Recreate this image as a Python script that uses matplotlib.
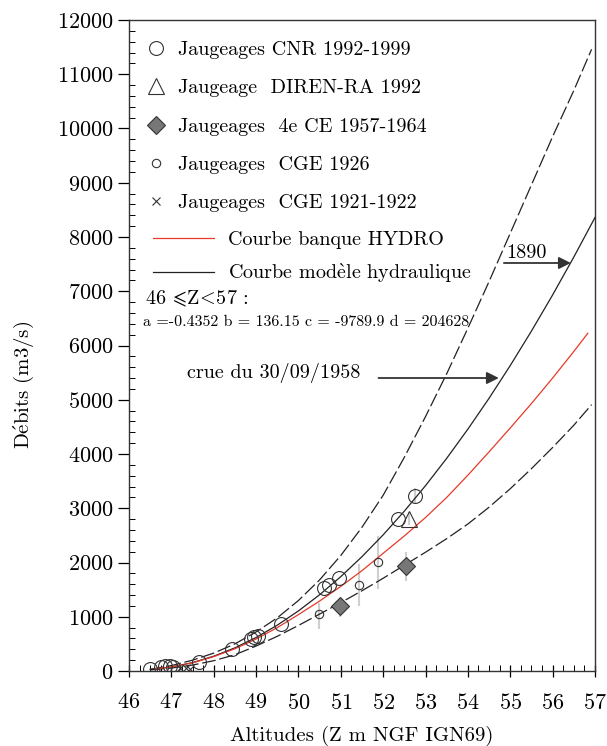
import matplotlib
matplotlib.use('Agg')
from matplotlib import pyplot as plt
from matplotlib.lines import Line2D

plt.rcParams['font.family'] = ['cmr10', 'DejaVu Serif']
plt.rcParams['mathtext.fontset'] = 'cm'
plt.rcParams['axes.unicode_minus'] = False
plt.rcParams['axes.formatter.use_mathtext'] = True

# courbe modele hydraulique (Q = aZ^3 + bZ^2 + cZ + d, valeurs lues)
z_model = [46.5, 47.0, 47.5, 48.0, 48.5, 49.0, 49.5, 50.0, 50.5, 51.0, 51.5,
           52.0, 52.5, 53.0, 53.5, 54.0, 54.5, 55.0, 55.5, 56.0, 56.5, 57.0]
q_model = [31, 74, 155, 273, 427, 618, 845, 1108, 1406, 1740, 2108,
           2510, 2947, 3417, 3921, 4459, 5028, 5631, 6266, 6932, 7630, 8359]

# courbe banque HYDRO
z_hydro = [46.6, 47.0, 47.5, 48.0, 48.5, 49.0, 49.5, 50.0, 50.5, 51.0, 51.5,
           52.0, 52.5, 53.0, 53.5, 54.0, 54.5, 55.0, 55.5, 56.0, 56.5, 56.83]
q_hydro = [40, 75, 150, 265, 410, 590, 800, 1040, 1290, 1560, 1850,
           2170, 2490, 2830, 3200, 3610, 4040, 4480, 4930, 5400, 5890, 6225]

# enveloppes (tirets)
z_env = [46.5, 47.0, 47.5, 48.0, 48.5, 49.0, 49.5, 50.0, 50.5, 51.0, 51.5,
         52.0, 52.5, 53.0, 53.5, 54.0, 54.5, 55.0, 55.5, 56.0, 56.5, 56.92]
q_upper = [30, 100, 200, 330, 500, 720, 980, 1300, 1680, 2130, 2650,
           3240, 3940, 4690, 5480, 6320, 7180, 8070, 8960, 9850, 10700, 11460]
q_lower = [20, 55, 110, 190, 300, 460, 640, 840, 1050, 1260, 1480,
           1710, 1950, 2190, 2440, 2710, 3020, 3360, 3730, 4120, 4530, 4910]

# jaugeages
z_cnr = [46.50, 46.75, 46.85, 46.97, 47.05, 47.66, 48.43, 48.88, 48.96, 49.05,
         49.60, 50.60, 50.72, 50.95, 52.35, 52.75]
q_cnr = [35, 75, 95, 95, 80, 165, 410, 595, 630, 650,
         870, 1530, 1585, 1710, 2805, 3220]
z_diren = [52.61]
q_diren = [2796]
z_ce = [50.99, 52.55]
q_ce = [1198, 1935]
z_cge26 = [50.48, 51.44, 51.88]
q_cge26 = [1045, 1585, 2004]
z_cge21 = [47.20, 47.35, 47.45]
q_cge21 = [50, 60, 30]

# incertitudes (barres grises)
z_bar = [50.48, 51.44, 51.88, 50.99, 52.55, 52.75, 52.61]
q_bar_low = [769, 1198, 1511, 1001, 1665, 3097, 2691]
q_bar_high = [1248, 1972, 2488, 1277, 2199, 3373, 2936]

fig = plt.figure(figsize=(6.07, 7.46), dpi=100)
ax = fig.add_axes([0.2125, 0.1005, 0.7677, 0.8727])

ax.vlines(z_bar, q_bar_low, q_bar_high, colors='#cfcfcf', lw=1.5, zorder=1)

ax.plot(z_env, q_upper, color='#222222', lw=0.9, dashes=(11, 3), zorder=2)
ax.plot(z_env, q_lower, color='#222222', lw=0.9, dashes=(11, 3), zorder=2)
ax.plot(z_model, q_model, color='#222222', lw=0.9, zorder=3)
ax.plot(z_hydro, q_hydro, color='#e8392a', lw=0.9, zorder=3)

ax.plot(z_cnr, q_cnr, 'o', ms=10, mfc='none', mec='#333333', mew=0.8, zorder=4)
ax.plot(z_diren, q_diren, '^', ms=11, mfc='none', mec='#333333', mew=0.8, zorder=4)
ax.plot(z_ce, q_ce, 'D', ms=9, mfc='#777777', mec='#333333', mew=0.8, zorder=4)
ax.plot(z_cge26, q_cge26, 'o', ms=6, mfc='none', mec='#333333', mew=0.8, zorder=4)
ax.plot(z_cge21, q_cge21, 'x', ms=6, color='#333333', mew=0.8, zorder=4)

ax.set_xlim(46, 57)
ax.set_ylim(0, 12000)
ax.set_xticks(range(46, 58))
ax.set_xticks([46 + 0.25 * i for i in range(45)], minor=True)
ax.set_yticks(range(0, 12001, 1000))
ax.set_yticks(range(0, 12001, 200), minor=True)
ax.tick_params(axis='x', which='major', direction='inout', length=9, width=0.9,
               labelsize=16, pad=11)
ax.tick_params(axis='x', which='minor', direction='in', length=4, width=0.7)
ax.tick_params(axis='y', which='major', direction='out', length=8, width=0.9,
               labelsize=16, pad=3)
ax.tick_params(axis='y', which='minor', direction='in', length=4, width=0.7)
for s in ax.spines.values():
    s.set_linewidth(1.0)
    s.set_color('#333333')

ax.set_xlabel('Altitudes (Z m NGF IGN69)', fontsize=15)
ax.set_ylabel(r'D$\acute{\mathrm{e}}$bits (m3/s)', fontsize=15)
ax.xaxis.set_label_coords(0.5, -0.085)
ax.yaxis.set_label_coords(-0.2, 0.44)

# legendes
h1 = [Line2D([], [], ls='none', marker='o', ms=10, mfc='none', mec='#333333', mew=0.8),
      Line2D([], [], ls='none', marker='^', ms=11, mfc='none', mec='#333333', mew=0.8),
      Line2D([], [], ls='none', marker='D', ms=9, mfc='#777777', mec='#333333', mew=0.8),
      Line2D([], [], ls='none', marker='o', ms=6, mfc='none', mec='#333333', mew=0.8),
      Line2D([], [], ls='none', marker='x', ms=6, color='#333333', mew=0.8)]
l1 = ['Jaugeages CNR 1992-1999', 'Jaugeage  DIREN-RA 1992',
      'Jaugeages  4e CE 1957-1964', 'Jaugeages  CGE 1926',
      'Jaugeages  CGE 1921-1922']
leg1 = ax.legend(h1, l1, loc='upper left', bbox_to_anchor=(0.02, 0.98),
                 frameon=False, fontsize=14.5, handlelength=1.0,
                 handletextpad=0.55, labelspacing=1.0, borderaxespad=0)
ax.add_artist(leg1)
h2 = [Line2D([], [], color='#e8392a', lw=0.9),
      Line2D([], [], color='#222222', lw=0.9)]
l2 = ['Courbe banque HYDRO', r'Courbe mod$\grave{\mathrm{e}}$le hydraulique']
ax.legend(h2, l2, loc='upper left', bbox_to_anchor=(0.035, 0.688),
          frameon=False, fontsize=14.5, handlelength=3.0,
          handletextpad=0.7, labelspacing=0.6, borderaxespad=0)

ax.text(0.034, 0.5714, r'46 $\!\leqslant\!$Z$\!<\!$57 :', transform=ax.transAxes,
        fontsize=14.5, va='center', ha='left')
ax.text(0.030, 0.5361, 'a =-0.4352 b = 136.15 c = -9789.9 d = 204628',
        transform=ax.transAxes, fontsize=11.5, va='center', ha='left')

ax.annotate('', xy=(56.43, 7521), xytext=(54.85, 7521),
            arrowprops=dict(arrowstyle='-|>', color='#333333', lw=1.3,
                            mutation_scale=18, shrinkA=0, shrinkB=0))
ax.text(54.9, 7535, '1890', fontsize=14.5, ha='left', va='bottom')
ax.annotate('', xy=(54.73, 5401), xytext=(51.89, 5401),
            arrowprops=dict(arrowstyle='-|>', color='#333333', lw=1.3,
                            mutation_scale=18, shrinkA=0, shrinkB=0))
ax.text(47.37, 5493, 'crue du 30/09/1958', fontsize=14.5, ha='left', va='center')

plt.savefig('out.png', dpi=100)
